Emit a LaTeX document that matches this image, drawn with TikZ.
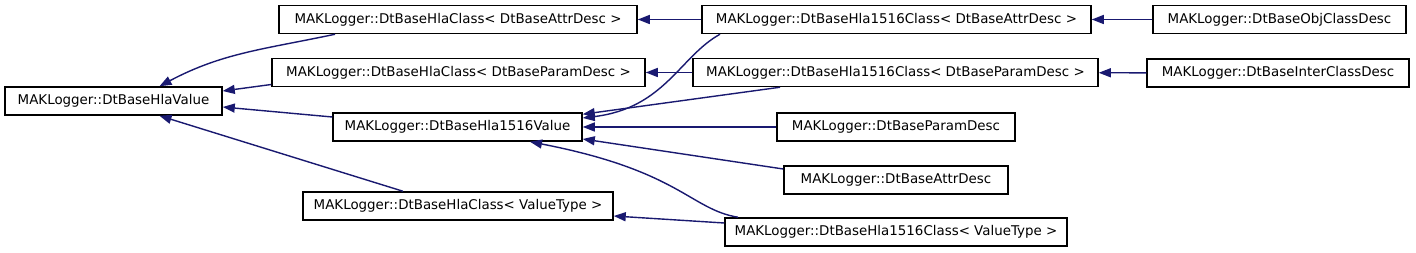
\documentclass[tikz,border=0pt]{standalone}
\usepackage{fontspec}
\setmainfont{DejaVu Sans}
\usepackage{tikz}
\usetikzlibrary{arrows.meta}
\definecolor{edgeblue}{RGB}{25,25,112}

\begin{document}
\begin{tikzpicture}[x=1pt, y=1pt, font=\fontsize{13.4}{16}\selectfont,
  cls/.style={draw, line width=1.5pt, fill=white, minimum height=28pt, inner sep=0pt},
  inh/.style={edgeblue, line width=1.4pt, -{Triangle[length=12pt, width=9pt]}}]
  \useasboundingbox (0,0) rectangle (1416,-253);
  \node[cls, minimum width=217pt] (hlavalue) at (113.5,-101) {MAKLogger::DtBaseHlaValue};
  \node[cls, minimum width=358pt] (hcattr) at (458,-19.5) {MAKLogger::DtBaseHlaClass< DtBaseAttrDesc >};
  \node[cls, minimum width=373pt] (hcparam) at (458.5,-72.5) {MAKLogger::DtBaseHlaClass< DtBaseParamDesc >};
  \node[cls, minimum width=249pt] (hvalue) at (457.5,-127) {MAKLogger::DtBaseHla1516Value};
  \node[cls, minimum width=310pt] (hcvt) at (458,-206) {MAKLogger::DtBaseHlaClass< ValueType >};
  \node[cls, minimum width=389pt] (hcattrb) at (896.5,-19.5) {MAKLogger::DtBaseHla1516Class< DtBaseAttrDesc >};
  \node[cls, minimum width=405pt] (hcparamb) at (895.5,-72.5) {MAKLogger::DtBaseHla1516Class< DtBaseParamDesc >};
  \node[cls, minimum width=238pt] (paramdesc) at (896,-127) {MAKLogger::DtBaseParamDesc};
  \node[cls, minimum width=224pt] (attrdesc) at (896,-180) {MAKLogger::DtBaseAttrDesc};
  \node[cls, minimum width=342pt] (hcvtb) at (896,-232) {MAKLogger::DtBaseHla1516Class< ValueType >};
  \node[cls, minimum width=253pt] (objclass) at (1279.5,-19.5) {MAKLogger::DtBaseObjClassDesc};
  \node[cls, minimum width=262pt] (interclass) at (1278,-73) {MAKLogger::DtBaseInterClassDesc};

  \draw[inh] ([xshift=-123pt]hcattr.south) to[out=192, in=28] ([xshift=46pt]hlavalue.north);
  \draw[inh] ([yshift=-12pt]hcparam.west) -- ([yshift=10pt]hlavalue.east);
  \draw[inh] ([yshift=10pt]hvalue.west) -- ([yshift=-6pt]hlavalue.east);
  \draw[inh] ([xshift=-55pt]hcvt.north) -- ([xshift=46pt]hlavalue.south);
  \draw[inh] (hcattrb) -- (hcattr);
  \draw[inh] ([xshift=-176.5pt]hcattrb.south) .. controls +(-40,-22) and +(82,10) .. ([yshift=9pt]hvalue.east);
  \draw[inh] (hcparamb) -- (hcparam);
  \draw[inh] ([xshift=-115.5pt]hcparamb.south) -- ([yshift=-2pt]hvalue.north east);
  \draw[inh] (paramdesc) -- (hvalue);
  \draw[inh] ([yshift=11pt]attrdesc.west) -- ([yshift=-12pt]hvalue.east);
  \draw[inh] ([xshift=-158pt]hcvtb.north) .. controls +(-48,8) and +(150,-29) .. ([xshift=72.5pt]hvalue.south);
  \draw[inh] ([yshift=9pt]hcvtb.west) -- ([yshift=-10pt]hcvt.east);
  \draw[inh] (objclass) -- (hcattrb);
  \draw[inh] (interclass) -- (hcparamb);
\end{tikzpicture}
\end{document}
